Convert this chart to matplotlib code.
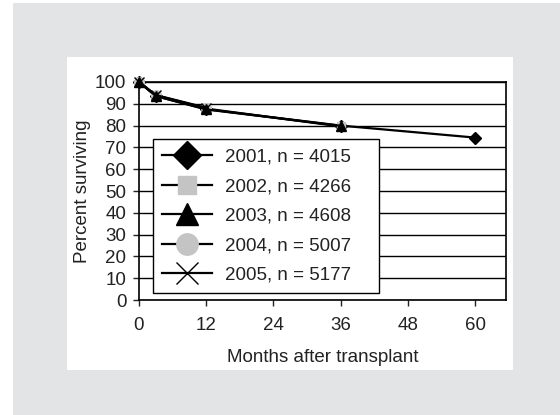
import matplotlib
matplotlib.use("Agg")
import matplotlib.pyplot as plt
from matplotlib.patches import Rectangle

plt.rcParams['font.family'] = ['Liberation Sans', 'DejaVu Sans']

# survival data by transplant year
months_2001 = [0, 3, 12, 36, 60]
surv_2001 = [100, 93.5, 87.5, 80.0, 74.5]
months_2002 = [0, 3, 12, 36]
surv_2002 = [100, 93.8, 87.8, 79.6]
months_2003 = [0, 3, 12, 36]
surv_2003 = [100, 93.6, 87.4, 79.9]
months_2004 = [0, 3, 12]
surv_2004 = [100, 93.9, 88.0]
months_2005 = [0, 3, 12]
surv_2005 = [100, 94.0, 88.2]

labels = ['2001, n = 4015', '2002, n = 4266', '2003, n = 4608',
          '2004, n = 5007', '2005, n = 5177']
x_ticks = [0, 12, 24, 36, 48, 60]
y_ticks = list(range(0, 101, 10))

W, H = 560, 415
FS = 13.5
TXT = '#222222'
fig = plt.figure(figsize=(W / 100, H / 100), dpi=100, facecolor='white')

# gray frame and white panel (pixel coords converted to figure fraction)
fig.patches.append(Rectangle((13 / W, 0), 1, (H - 3) / H, transform=fig.transFigure,
                             facecolor='#e3e4e6', edgecolor='none', zorder=-10))
fig.patches.append(Rectangle((67 / W, (H - 370) / H), (513 - 67) / W, (370 - 57) / H,
                             transform=fig.transFigure, facecolor='white',
                             edgecolor='none', zorder=-9))

ax = fig.add_axes([139 / W, (H - 300) / H, (506 - 139) / W, (300 - 82) / H])

style = dict(color='black', lw=1.6, ms=7, clip_on=False, zorder=3)
ax.plot(months_2001, surv_2001, marker='D', mfc='black', mec='black', label=labels[0], **dict(style, ms=6.5))
ax.plot(months_2002, surv_2002, marker='s', mfc='#c4c4c4', mec='#c4c4c4', label=labels[1], **dict(style, ms=6))
ax.plot(months_2004, surv_2004, marker='o', mfc='#c4c4c4', mec='#c4c4c4', label=labels[3], **style)
ax.plot(months_2003, surv_2003, marker='^', mfc='black', mec='black', label=labels[2], **style)
ax.plot(months_2005, surv_2005, marker='x', mfc='black', mec='black', mew=1.0, label=labels[4], **style)

ax.set_xlim(0, 65.5)
ax.set_ylim(0, 100)
ax.set_xticks(x_ticks)
ax.set_yticks(y_ticks)
ax.yaxis.grid(True, color='black', lw=1.0)
ax.set_axisbelow(True)
for s in ax.spines.values():
    s.set_color('black')
    s.set_linewidth(1.2)
ax.tick_params(direction='out', length=4, width=1.0, labelsize=FS, colors=TXT)
ax.tick_params(axis='y', pad=5)
ax.tick_params(axis='x', pad=8)

ax.set_xlabel('Months after transplant', fontsize=FS, color=TXT, labelpad=11)
ax.set_ylabel('Percent surviving', fontsize=FS, color=TXT, labelpad=3)

handles, labs = ax.get_legend_handles_labels()
order = [labs.index(l) for l in labels]
leg = ax.legend([handles[i] for i in order], [labs[i] for i in order],
                loc='lower left', bbox_to_anchor=(0.038, 0.032, 0.616, 0.7),
                mode='expand', borderaxespad=0,
                fontsize=FS, markerscale=2.2, handlelength=2.67, fancybox=False,
                framealpha=1, edgecolor='black', labelspacing=0.66,
                borderpad=0.5, handletextpad=0.65)
leg.get_frame().set_linewidth(1.0)
leg.set_zorder(5)
for t in leg.get_texts():
    t.set_color(TXT)

fig.savefig('out.png', dpi=100, facecolor=fig.get_facecolor())
